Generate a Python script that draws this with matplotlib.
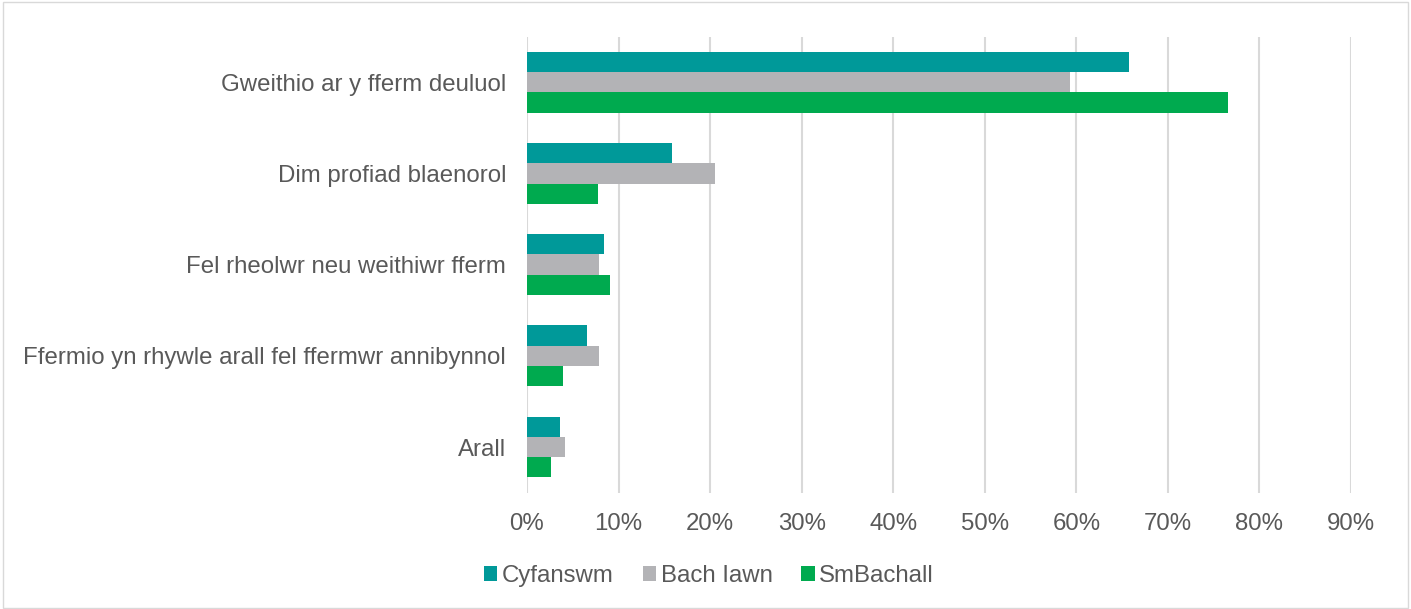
import numpy as np
import matplotlib.pyplot as plt
from matplotlib.patches import Rectangle

plt.rcParams['font.family'] = ['Liberation Sans', 'DejaVu Sans']

# Data (percent)
categories = ['Gweithio ar y fferm deuluol', 'Dim profiad blaenorol',
              'Fel rheolwr neu weithiwr fferm',
              'Ffermio yn rhywle arall fel ffermwr annibynnol', 'Arall']
series_names = ['Cyfanswm', 'Bach Iawn', 'SmBachall']
cyfanswm = [65.7, 15.8, 8.4, 6.5, 3.6]
bach_iawn = [59.3, 20.5, 7.9, 7.9, 4.2]
smbachall = [76.6, 7.8, 9.1, 3.9, 2.6]
colors = ['#009999', '#B3B3B6', '#00AA4F']

text_color = '#595959'

fig = plt.figure(figsize=(14.11, 6.09), dpi=100)
ax = fig.add_axes([527 / 1411, 1 - 492.6 / 609, (1351 - 527) / 1411, 456 / 609])

y = np.arange(len(categories))
h = 0.222
for i, (vals, name, c) in enumerate(zip([cyfanswm, bach_iawn, smbachall], series_names, colors)):
    ax.barh(y + (i - 1) * h, vals, height=h, color=c, label=name, zorder=3)

ax.set_xlim(0, 90)
ax.set_ylim(len(categories) - 0.5, -0.5)
ax.set_xticks(np.arange(0, 91, 10))
ax.set_xticklabels([f'{v}%' for v in range(0, 91, 10)])
ax.set_yticks(y)
ax.set_yticklabels(categories)
ax.tick_params(length=0, labelsize=17.3, colors=text_color)
ax.tick_params(axis='y', pad=15)
ax.tick_params(axis='x', pad=15)
ax.grid(axis='x', color='#D9D9D9', linewidth=1.5, zorder=0)
for s in ax.spines.values():
    s.set_visible(False)

leg = fig.legend(loc='center', bbox_to_anchor=(709 / 1411, 1 - 576 / 609), ncol=3,
                 frameon=False, fontsize=17.3, handlelength=0.55, handleheight=0.55,
                 handletextpad=0.2, columnspacing=1.2)
for t in leg.get_texts():
    t.set_color(text_color)

# outer border
fig.patches.append(Rectangle((0.002, 0.002), 0.996, 0.994, transform=fig.transFigure,
                             fill=False, edgecolor='#D9D9D9', linewidth=1))

fig.savefig('out.png', dpi=100)
